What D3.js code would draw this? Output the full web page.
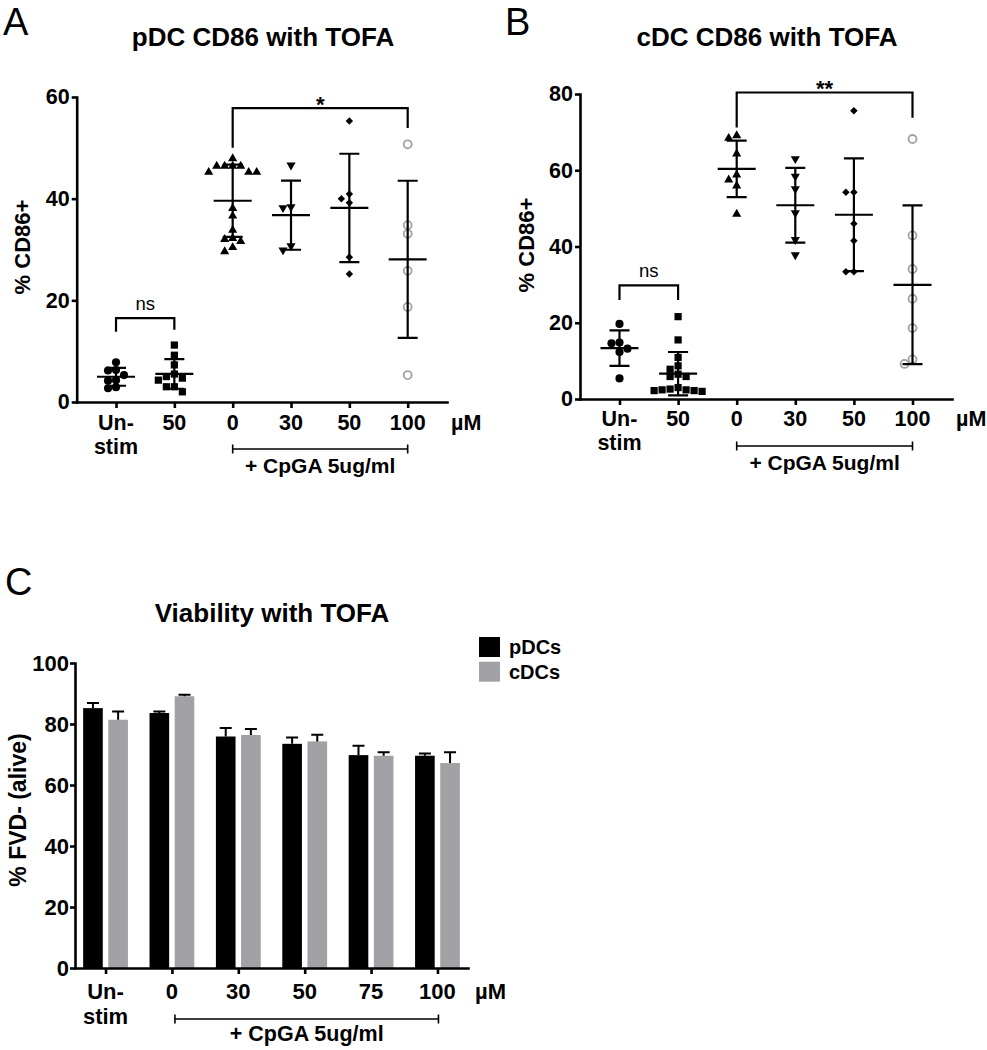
<!DOCTYPE html>
<html>
<head>
<meta charset="utf-8">
<script src="https://cdn.jsdelivr.net/npm/d3@7"></script>
<style>
  body { margin: 0; background: #fff; }
  svg text { font-family: "Liberation Sans", Arial, Helvetica, sans-serif; fill: #000; }
</style>
</head>
<body>
<svg id="fig" width="987" height="1050"></svg>
<script>
// ---- data ----
var scatterGroups = ["unstim", "tofa50", "cpga0", "cpga30", "cpga50", "cpga100"];
var scatterTickLabels = [["Un-", "stim"], ["50"], ["0"], ["30"], ["50"], ["100"]];
var scatterShapes = ["circle", "square", "triangle", "triangleDown", "diamond", "open"];

// panel A, pDC % CD86+
var pdcValues = [
  [7.8, 6.3, 6.2, 5.3, 4.3, 4.2, 2.9, 2.7],
  [11.2, 9.2, 7.3, 5.5, 5.0, 4.7, 4.3, 3.0, 3.0, 2.0],
  [47.9, 46.4, 46.4, 46.4, 46.4, 45.2, 45.2, 45.2, 38.1, 36.6, 33.8, 32.2, 32.0, 31.6, 30.4, 29.6],
  [46.6, 38.4, 38.2, 30.7, 29.9],
  [55.3, 40.9, 40.0, 39.2, 28.5, 25.2],
  [50.7, 34.8, 33.1, 25.8, 18.7, 5.3]
];
// panel B, cDC % CD86+
var cdcValues = [
  [19.7, 14.8, 14.6, 13.2, 12.3, 5.4],
  [21.6, 15.5, 10.9, 8.7, 7.8, 6.5, 5.9, 5.9, 3.0, 2.6, 2.4, 2.4, 2.2, 2.2, 2.0],
  [69.1, 68.4, 64.3, 58.8, 57.5, 55.9, 48.5],
  [63.0, 58.4, 55.1, 48.8, 41.8, 37.8],
  [75.6, 54.2, 54.2, 46.0, 41.5, 33.4, 33.4],
  [68.2, 42.9, 34.1, 26.3, 18.6, 10.4, 9.2]
];
var pdcTicks = [0, 20, 40, 60];
var cdcTicks = [0, 20, 40, 60, 80];

// significance brackets: from group, to group, label, top, left leg end, right leg end (data units)
var pdcSig = [[0, 1, "ns", 16.5, 13.8, 14.2], [2, 5, "*", 57.8, 50, 53.9]];
var cdcSig = [[0, 1, "ns", 29.8, 26, 26], [2, 5, "**", 80.4, 71.2, 73.8]];

// panel C, viability (mean + SEM)
var viaGroups = ["unstim", "cpga0", "cpga30", "cpga50", "cpga75", "cpga100"];
var viaTickLabels = [["Un-", "stim"], ["0"], ["30"], ["50"], ["75"], ["100"]];
var viaSeries = ["pDCs", "cDCs"];
var viaPdcMean = [85.2, 83.6, 75.9, 73.5, 69.8, 69.6];
var viaPdcSem = [1.7, 0.5, 2.8, 2.1, 3.1, 0.7];
var viaCdcMean = [81.4, 89.1, 76.4, 74.3, 69.6, 67.2];
var viaCdcSem = [2.7, 0.5, 2.0, 2.2, 1.1, 3.5];
var viaTicks = [0, 20, 40, 60, 80, 100];

var svg = d3.select("#fig");
var GREY_BAR = "#a2a2a6";
var GREY_PT = "#a3a3a3";

// put points of one group side by side when they would overlap (like prism does)
function dodge(vals, y) {
  var placed = [];
  vals.forEach(function(v) {
    var py = y(v);
    for (var k = 0; k < 20; k++) {
      var slot = k === 0 ? 0 : (k % 2 ? -Math.ceil(k / 2) : k / 2);
      var hit = placed.some(function(p) { return p.slot === slot && Math.abs(p.py - py) < 6.5; });
      if (!hit) { placed.push({ v: v, py: py, slot: slot }); break; }
    }
  });
  return placed;
}

function styleAxis(sel, size) {
  sel.select(".domain").attr("stroke", "#000").attr("stroke-width", 2.6).attr("stroke-linecap", "square");
  sel.selectAll(".tick line").attr("stroke", "#000").attr("stroke-width", 2.6);
  sel.selectAll(".tick text").attr("font-size", size).attr("font-weight", "bold")
    .attr("font-family", "Liberation Sans, Arial, sans-serif").attr("fill", "#000");
}

function catLabels(g, x, groups, labels, axisY, first, second, size) {
  groups.forEach(function(k, i) {
    var t = g.append("text").attr("text-anchor", "middle")
      .attr("font-size", size).attr("font-weight", "bold");
    labels[i].forEach(function(line, j) {
      t.append("tspan").attr("x", x(k)).attr("y", axisY + (j === 0 ? first : first + second)).text(line);
    });
  });
}

function cpgaBracket(g, x1, x2, axisY, lineOff, textOff, size) {
  g.append("path")
    .attr("d", "M" + x1 + "," + (axisY + lineOff - 4.5) + "V" + (axisY + lineOff + 4.5) +
      "M" + x1 + "," + (axisY + lineOff) + "H" + x2 +
      "M" + x2 + "," + (axisY + lineOff - 4.5) + "V" + (axisY + lineOff + 4.5))
    .attr("stroke", "#000").attr("stroke-width", 1.6).attr("fill", "none");
  g.append("text").attr("x", (x1 + x2) / 2).attr("y", axisY + textOff)
    .attr("text-anchor", "middle").attr("font-size", size).attr("font-weight", "bold")
    .text("+ CpGA 5ug/ml");
}

function scatterPanel(cfg) {
  var g = svg.append("g");
  var x = d3.scalePoint().domain(scatterGroups).range([cfg.left, cfg.right]).padding(0.674);
  var y = d3.scaleLinear().domain([0, cfg.ymax]).range([cfg.bottom, cfg.top]);

  // letter + title
  g.append("text").attr("x", cfg.letterX).attr("y", 35).attr("font-size", 38).text(cfg.letter);
  g.append("text").attr("x", cfg.titleX).attr("y", 46).attr("text-anchor", "middle")
    .attr("font-size", 26).attr("font-weight", "bold").text(cfg.title);
  g.append("text")
    .attr("transform", "translate(" + cfg.ylabX + "," + cfg.ylabY + ") rotate(-90)")
    .attr("text-anchor", "middle").attr("dy", "0.36em")
    .attr("font-size", 22).attr("font-weight", "bold").text("% CD86+");

  // points
  cfg.values.forEach(function(vals, gi) {
    var key = scatterGroups[gi];
    var shape = scatterShapes[gi];
    var pts = dodge(vals, y);
    var sel = g.append("g").selectAll("path").data(pts).enter().append("path");
    var cx = function(d) { return x(key) + d.slot * 8; };
    if (shape === "open") {
      sel.attr("d", d3.symbol(d3.symbolCircle, 50)())
        .attr("fill", "none").attr("stroke", GREY_PT).attr("stroke-width", 1.8)
        .attr("transform", function(d) { return "translate(" + cx(d) + "," + d.py + ")"; });
    } else {
      var sym = { circle: d3.symbolCircle, square: d3.symbolSquare, triangle: d3.symbolTriangle,
                  triangleDown: d3.symbolTriangle, diamond: d3.symbolSquare }[shape];
      var size = { circle: 52, square: 52, triangle: 36, triangleDown: 36, diamond: 28 }[shape];
      var rot = { triangleDown: 180, diamond: 45 }[shape] || 0;
      sel.attr("d", d3.symbol(sym, size)()).attr("fill", "#000")
        .attr("transform", function(d) {
          return "translate(" + cx(d) + "," + d.py + ") rotate(" + rot + ")";
        });
    }

    // mean +/- SD
    var m = d3.mean(vals), sd = d3.deviation(vals), xc = x(key);
    g.append("path")
      .attr("d", "M" + (xc - 19) + "," + y(m) + "H" + (xc + 19) +
        "M" + xc + "," + y(m - sd) + "V" + y(m + sd) +
        "M" + (xc - 10) + "," + y(m + sd) + "H" + (xc + 10) +
        "M" + (xc - 10) + "," + y(m - sd) + "H" + (xc + 10))
      .attr("stroke", "#000").attr("stroke-width", 2.2).attr("fill", "none");
  });

  // axes
  var ya = g.append("g").attr("transform", "translate(" + cfg.left + ",0)")
    .call(d3.axisLeft(y).tickValues(cfg.ticks).tickSize(5).tickPadding(2).tickSizeOuter(0));
  styleAxis(ya, 21.5);
  var xa = g.append("g").attr("transform", "translate(0," + cfg.bottom + ")")
    .call(d3.axisBottom(x).tickSize(6).tickFormat("").tickSizeOuter(0));
  styleAxis(xa, 21.5);

  catLabels(g, x, scatterGroups, scatterTickLabels, cfg.bottom, cfg.labOff, 24, 21.5);
  g.append("text").attr("x", cfg.right + 4).attr("y", cfg.bottom + cfg.labOff)
    .attr("font-size", 21.5).attr("font-weight", "bold").text("µM");
  cpgaBracket(g, x(scatterGroups[2]), x(scatterGroups[5]), cfg.bottom, 47, 71, 21);

  // significance brackets
  cfg.sig.forEach(function(s) {
    var x1 = x(scatterGroups[s[0]]), x2 = x(scatterGroups[s[1]]);
    g.append("path")
      .attr("d", "M" + x1 + "," + y(s[4]) + "V" + y(s[3]) + "H" + x2 + "V" + y(s[5]))
      .attr("stroke", "#000").attr("stroke-width", 2.2).attr("fill", "none");
    var ns = s[2] === "ns";
    g.append("text").attr("x", (x1 + x2) / 2)
      .attr("y", ns ? y(s[3]) - 8.5 : y(s[3]) + 3.5)
      .attr("text-anchor", "middle")
      .attr("font-size", ns ? 18.5 : 22).attr("font-weight", ns ? "normal" : "bold")
      .text(s[2]);
  });
}

scatterPanel({
  letter: "A", letterX: 3, title: "pDC CD86 with TOFA", titleX: 263,
  ylabX: 22, ylabY: 247,
  left: 76.7, right: 447, top: 97, bottom: 402, ymax: 60, ticks: pdcTicks,
  values: pdcValues, sig: pdcSig, labOff: 28
});
scatterPanel({
  letter: "B", letterX: 505, title: "cDC CD86 with TOFA", titleX: 767,
  ylabX: 526, ylabY: 245,
  left: 580, right: 952, top: 94, bottom: 399, ymax: 80, ticks: cdcTicks,
  values: cdcValues, sig: cdcSig, labOff: 27
});

// ---- panel C: bar chart ----
(function() {
  var g = svg.append("g");
  var left = 75, right = 468, top = 663, bottom = 968;
  var x = d3.scalePoint().domain(viaGroups).range([left, right]).padding(0.46);
  var x1 = d3.scaleBand().domain(viaSeries).range([-22.4, 22.4]).paddingInner(0.22);
  var y = d3.scaleLinear().domain([0, 100]).range([bottom, top]);
  var means = { pDCs: viaPdcMean, cDCs: viaCdcMean };
  var sems = { pDCs: viaPdcSem, cDCs: viaCdcSem };
  var fills = { pDCs: "#000", cDCs: GREY_BAR };

  g.append("text").attr("x", 5).attr("y", 595).attr("font-size", 38).text("C");
  g.append("text").attr("x", 272).attr("y", 622).attr("text-anchor", "middle")
    .attr("font-size", 26).attr("font-weight", "bold").text("Viability with TOFA");
  g.append("text").attr("transform", "translate(18,810) rotate(-90)")
    .attr("text-anchor", "middle").attr("dy", "0.36em")
    .attr("font-size", 23).attr("font-weight", "bold").text("% FVD- (alive)");

  viaSeries.forEach(function(s) {
    var rows = viaGroups.map(function(k, i) { return { k: k, v: means[s][i], e: sems[s][i] }; });
    g.append("g").selectAll("rect").data(rows).enter().append("rect")
      .attr("x", function(d) { return x(d.k) + x1(s); })
      .attr("width", x1.bandwidth())
      .attr("y", function(d) { return y(d.v); })
      .attr("height", function(d) { return y(0) - y(d.v); })
      .attr("fill", fills[s]);
    g.append("g").selectAll("path").data(rows).enter().append("path")
      .attr("d", function(d) {
        var cx = x(d.k) + x1(s) + x1.bandwidth() / 2;
        return "M" + cx + "," + y(d.v) + "V" + y(d.v + d.e) +
          "M" + (cx - 6) + "," + y(d.v + d.e) + "H" + (cx + 6);
      })
      .attr("stroke", "#000").attr("stroke-width", 2).attr("fill", "none");
  });

  var ya = g.append("g").attr("transform", "translate(" + left + ",0)")
    .call(d3.axisLeft(y).tickValues(viaTicks).tickSize(5).tickPadding(1).tickSizeOuter(0));
  styleAxis(ya, 22);
  var xa = g.append("g").attr("transform", "translate(0," + bottom + ")")
    .call(d3.axisBottom(x).tickSize(6).tickFormat("").tickSizeOuter(0));
  styleAxis(xa, 22);

  catLabels(g, x, viaGroups, viaTickLabels, bottom, 31, 25, 22);
  g.append("text").attr("x", 475).attr("y", bottom + 31)
    .attr("font-size", 22).attr("font-weight", "bold").text("µM");
  cpgaBracket(g, x(viaGroups[1]) + 3, x(viaGroups[5]) + 1, bottom, 51, 73, 21.5);

  // legend
  var lg = g.append("g").attr("transform", "translate(479,637)");
  viaSeries.forEach(function(s, i) {
    lg.append("rect").attr("x", 0).attr("y", i * 24.7).attr("width", 21).attr("height", 20).attr("fill", fills[s]);
    lg.append("text").attr("x", 30).attr("y", i * 24.7 + 17).attr("font-size", 20)
      .attr("font-weight", "bold").text(s);
  });
})();
</script>
</body>
</html>
